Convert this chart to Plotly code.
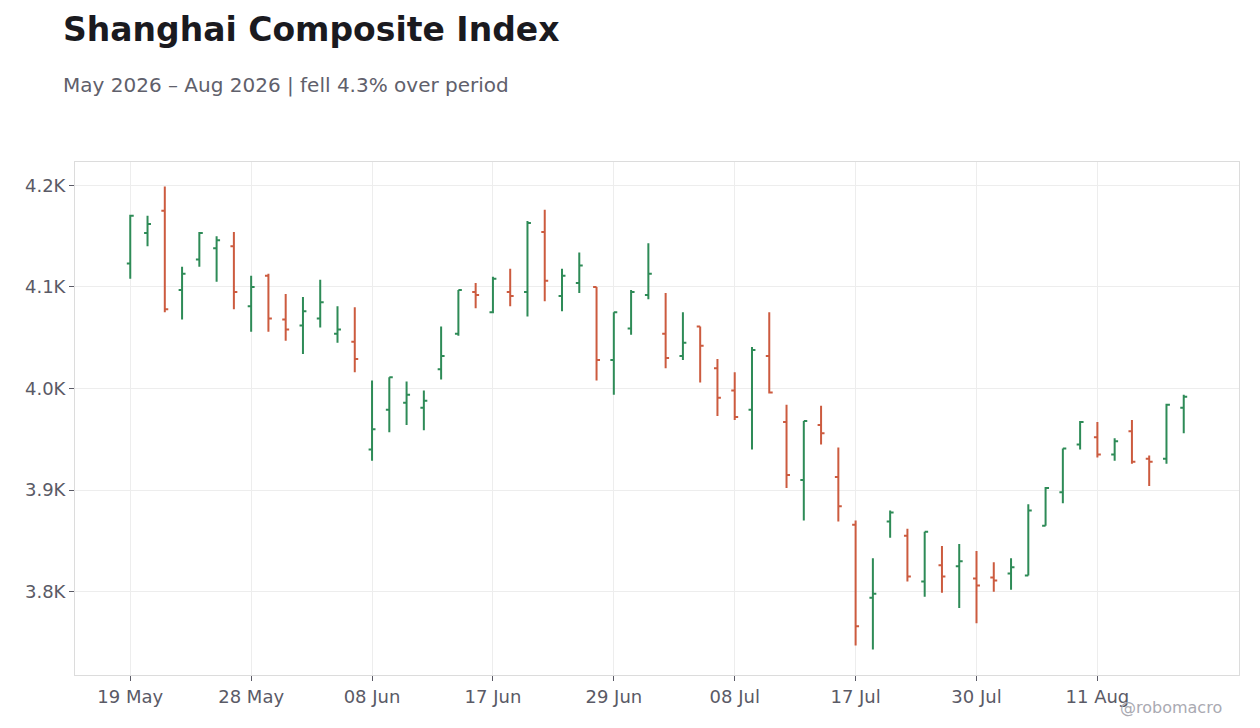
import plotly.graph_objects as go

# trading days shown on the chart (category axis, every 7th labelled)
dates = [
    "2026-05-19", "2026-05-20", "2026-05-21", "2026-05-22", "2026-05-25",
    "2026-05-26", "2026-05-27", "2026-05-28", "2026-05-29", "2026-06-01",
    "2026-06-02", "2026-06-03", "2026-06-04", "2026-06-05", "2026-06-08",
    "2026-06-09", "2026-06-10", "2026-06-11", "2026-06-12", "2026-06-15",
    "2026-06-16", "2026-06-17", "2026-06-18", "2026-06-22", "2026-06-23",
    "2026-06-24", "2026-06-25", "2026-06-26", "2026-06-29", "2026-06-30",
    "2026-07-01", "2026-07-02", "2026-07-03", "2026-07-06", "2026-07-07",
    "2026-07-08", "2026-07-09", "2026-07-10", "2026-07-13", "2026-07-14",
    "2026-07-15", "2026-07-16", "2026-07-17", "2026-07-20", "2026-07-21",
    "2026-07-22", "2026-07-24", "2026-07-27", "2026-07-28", "2026-07-30",
    "2026-07-31", "2026-08-03", "2026-08-04", "2026-08-06", "2026-08-07",
    "2026-08-10", "2026-08-11", "2026-08-12", "2026-08-13", "2026-08-14",
    "2026-08-17", "2026-08-18",
]

opens = [4123, 4153, 4175, 4097, 4127, 4138, 4140, 4081, 4111, 4068,
         4062, 4069, 4054, 4046, 3940, 3979, 3986, 3981, 4019, 4054,
         4095, 4075, 4095, 4095, 4154, 4091, 4104, 4100, 4028, 4059,
         4092, 4054, 4032, 4061, 4020, 3998, 3979, 4032, 3967, 3910,
         3964, 3913, 3866, 3794, 3869, 3855, 3810, 3826, 3825, 3813,
         3814, 3818, 3816, 3865, 3898, 3945, 3952, 3935, 3958, 3931,
         3931, 3981]
highs = [4171, 4170, 4199, 4120, 4154, 4150, 4154, 4111, 4113, 4093,
         4090, 4107, 4081, 4080, 4008, 4011, 4007, 3998, 4061, 4097,
         4104, 4110, 4118, 4165, 4176, 4118, 4134, 4100, 4075, 4097,
         4143, 4094, 4075, 4061, 4029, 4016, 4041, 4075, 3984, 3968,
         3983, 3942, 3870, 3833, 3880, 3862, 3859, 3845, 3847, 3840,
         3829, 3833, 3886, 3903, 3941, 3968, 3967, 3951, 3969, 3934,
         3985, 3994]
lows = [4108, 4140, 4075, 4068, 4120, 4105, 4078, 4056, 4056, 4047,
        4034, 4060, 4045, 4016, 3929, 3957, 3964, 3959, 4009, 4052,
        4079, 4074, 4081, 4071, 4086, 4076, 4094, 4008, 3994, 4053,
        4088, 4020, 4028, 4006, 3973, 3969, 3940, 3995, 3902, 3870,
        3945, 3869, 3747, 3743, 3853, 3810, 3795, 3799, 3784, 3769,
        3800, 3802, 3816, 3865, 3887, 3940, 3932, 3929, 3926, 3904,
        3926, 3956]
closes = [4170, 4162, 4078, 4113, 4153, 4146, 4095, 4100, 4069, 4058,
          4076, 4085, 4058, 4029, 3960, 4011, 3994, 3988, 4032, 4097,
          4092, 4108, 4091, 4163, 4106, 4111, 4121, 4028, 4075, 4095,
          4113, 4030, 4045, 4042, 3991, 3972, 4038, 3996, 3915, 3968,
          3956, 3884, 3766, 3798, 3878, 3815, 3859, 3815, 3830, 3806,
          3811, 3824, 3880, 3902, 3941, 3967, 3935, 3948, 3928, 3928,
          3984, 3992]

y_tickvals = [3800, 3900, 4000, 4100, 4200]
y_ticktext = ["3.8K", "3.9K", "4.0K", "4.1K", "4.2K"]

x_tickvals = dates[::7]
x_ticktext = ["19 May", "28 May", "08 Jun", "17 Jun", "29 Jun",
              "08 Jul", "17 Jul", "30 Jul", "11 Aug"]

GREEN = "#2e8b57"
RED = "#cc5b3f"
FONT = "DejaVu Sans"

# page body has an 8px margin, so the figure is drawn 8px smaller
W, H = 1252, 720
ML, MR, MT, MB = 67, 21, 154, 53
PW, PH = W - ML - MR, H - MT - MB

fig = go.Figure(go.Ohlc(
    x=dates, open=opens, high=highs, low=lows, close=closes,
    increasing=dict(line=dict(color=GREEN, width=2)),
    decreasing=dict(line=dict(color=RED, width=2)),
    tickwidth=0.2,
))

fig.update_layout(
    width=W, height=H,
    margin=dict(l=ML, r=MR, t=MT, b=MB),
    paper_bgcolor="white", plot_bgcolor="white",
    font=dict(family=FONT, color="#5a5a66", size=18),
    showlegend=False,
    title=dict(
        text="<b>Shanghai Composite Index</b>",
        x=55 / W, xref="container", xanchor="left",
        y=1 - 21 / H, yref="container", yanchor="middle",
        font=dict(family=FONT, size=33, color="#1a1a1f"),
    ),
)

fig.add_annotation(
    text="May 2026 – Aug 2026 | fell 4.3% over period",
    xref="paper", yref="paper", x=-14 / PW, y=(PH + MT - 77) / PH,
    xanchor="left", yanchor="middle", showarrow=False,
    font=dict(family=FONT, size=20, color="#60606b"),
)
fig.add_annotation(
    text="@robomacro",
    xref="paper", yref="paper", x=(1216 - ML) / PW, y=-32 / PH,
    xanchor="right", yanchor="middle", showarrow=False,
    font=dict(family=FONT, size=16, color="#aaaab2"),
)

fig.update_xaxes(
    type="category", range=[-3.2, 64.2],
    tickvals=x_tickvals, ticktext=x_ticktext,
    rangeslider=dict(visible=False),
    showgrid=True, gridcolor="#ededed",
    showline=True, linecolor="#dcdcdc", mirror=True,
    ticks="outside", ticklen=5, tickcolor="#5a5a66",
    zeroline=False,
)
fig.update_yaxes(
    range=[3718, 4223],
    tickvals=y_tickvals, ticktext=y_ticktext,
    showgrid=True, gridcolor="#ededed",
    showline=True, linecolor="#dcdcdc", mirror=True,
    ticks="outside", ticklen=5, tickcolor="#5a5a66",
    zeroline=False,
)

fig.write_html("out.html")
